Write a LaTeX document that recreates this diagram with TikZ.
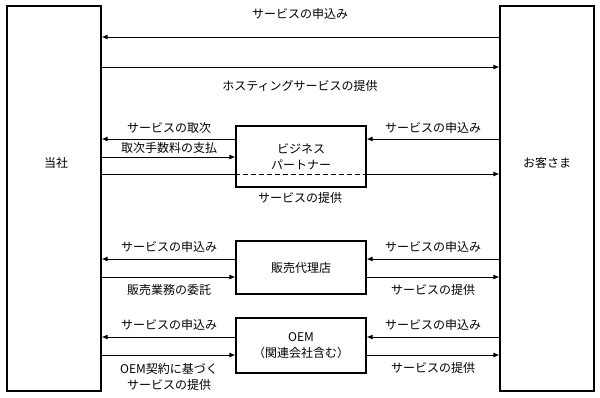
\documentclass[tikz,border=0pt]{standalone}
\usepackage{fontspec}
\setmainfont{Noto Sans CJK JP}
\usetikzlibrary{arrows.meta}

\begin{document}
\begin{tikzpicture}[
  x=1pt,y=-1pt,
  font=\fontsize{12}{16}\selectfont,
  party/.style={draw,line width=1.1pt,fill=white,inner sep=0pt,minimum width=94pt,minimum height=385pt},
  box/.style={draw,line width=1.1pt,fill=white,align=center,inner sep=0pt,minimum width=130pt},
  flow/.style={-{Latex[length=6pt,width=5pt]},line width=1pt},
  lbl/.style={inner sep=1pt,align=center}
]
\useasboundingbox (0,0) rectangle (600,397);

\node[party] (tousha) at (54,198.5) {};
\node[party] (kyaku) at (547,198.5) {};
\node[lbl] (toushaText) at (56,163) {当社};
\node[lbl] (kyakuText) at (547,163) {お客さま};

\node[box,minimum height=61pt] (partner) at (301,156.5) {ビジネス\\パートナー};
\node[box,minimum height=53pt] (dairiten) at (301,267.5) {販売代理店};
\node[box,minimum height=55pt] (oem) at (301,345.5) {OEM\\（関連会社含む）};

% direct
\draw[flow] (kyaku.west |- 0,37) -- (tousha.east |- 0,37);
\draw[flow] (tousha.east |- 0,67) -- (kyaku.west |- 0,67);
\node[lbl] (moushikomi) at (300,14) {サービスの申込み};
\node[lbl] (hosting) at (300,86) {ホスティングサービスの提供};

% business partner
\draw[flow] (partner.west |- 0,139) -- (tousha.east |- 0,139);
\draw[flow] (kyaku.west |- 0,139) -- (partner.east |- 0,139);
\draw[flow] (tousha.east |- 0,157) -- (partner.west |- 0,157);
\draw[line width=1pt] (tousha.east |- 0,174) -- (partner.west |- 0,174);
\draw[line width=1pt,dash pattern=on 5pt off 3pt] (partner.west |- 0,174) -- (partner.east |- 0,174);
\draw[flow] (partner.east |- 0,174) -- (kyaku.west |- 0,174);
\node[lbl] (toritsugi) at (169,128) {サービスの取次};
\node[lbl] (tesuuryou) at (169,148) {取次手数料の支払};
\node[lbl] (bpMoushikomi) at (433,128) {サービスの申込み};
\node[lbl] (bpTeikyou) at (300,198) {サービスの提供};

% sales agent
\draw[flow] (dairiten.west |- 0,259) -- (tousha.east |- 0,259);
\draw[flow] (kyaku.west |- 0,259) -- (dairiten.east |- 0,259);
\draw[flow] (tousha.east |- 0,277) -- (dairiten.west |- 0,277);
\draw[flow] (dairiten.east |- 0,277) -- (kyaku.west |- 0,277);
\node[lbl] (daMoushikomiL) at (169,247) {サービスの申込み};
\node[lbl] (daMoushikomiR) at (433,247) {サービスの申込み};
\node[lbl] (itaku) at (169,290) {販売業務の委託};
\node[lbl] (daTeikyou) at (433,290) {サービスの提供};

% OEM
\draw[flow] (oem.west |- 0,337) -- (tousha.east |- 0,337);
\draw[flow] (kyaku.west |- 0,337) -- (oem.east |- 0,337);
\draw[flow] (tousha.east |- 0,355) -- (oem.west |- 0,355);
\draw[flow] (oem.east |- 0,355) -- (kyaku.west |- 0,355);
\node[lbl] (oemMoushikomiL) at (169,325) {サービスの申込み};
\node[lbl] (oemMoushikomiR) at (433,325) {サービスの申込み};
\node[lbl] (keiyaku) at (169,377) {OEM契約に基づく\\サービスの提供};
\node[lbl] (oemTeikyou) at (433,368) {サービスの提供};
\end{tikzpicture}
\end{document}
